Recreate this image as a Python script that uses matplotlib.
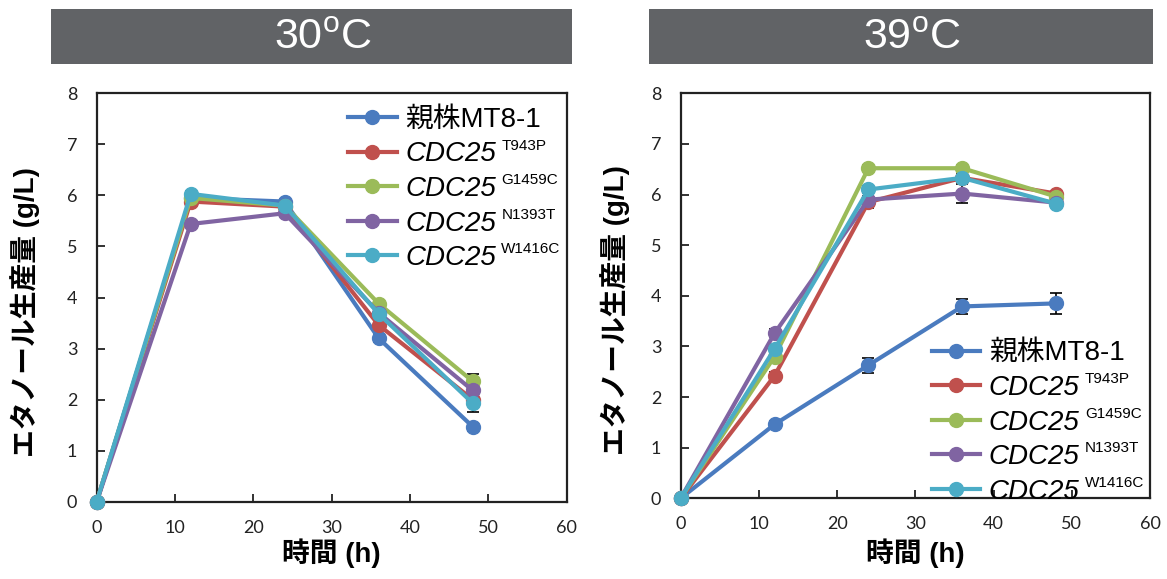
import matplotlib
matplotlib.use("Agg")
import matplotlib.pyplot as plt
from matplotlib.patches import Rectangle

plt.rcParams['font.family'] = ['Lato', 'Noto Sans CJK JP', 'DejaVu Sans']
plt.rcParams['mathtext.fontset'] = 'custom'
plt.rcParams['mathtext.rm'] = 'Liberation Sans'
plt.rcParams['mathtext.sf'] = 'Liberation Sans'

# 時間 (h)
hours = [0, 12, 24, 36, 48]

labels = ['親株MT8-1', 'CDC25', 'CDC25', 'CDC25', 'CDC25']
mutations = ['', 'T943P', 'G1459C', 'N1393T', 'W1416C']
colors = ['#4a7bbf', '#c0504d', '#9bbb59', '#8064a2', '#4bacc6']

# 30°C
t30_mt81 = [0, 5.95, 5.88, 3.20, 1.47]
t30_t943p = [0, 5.88, 5.78, 3.46, 2.00]
t30_g1459c = [0, 5.95, 5.80, 3.88, 2.36]
t30_n1393t = [0, 5.44, 5.65, 3.70, 2.18]
t30_w1416c = [0, 6.03, 5.80, 3.68, 1.93]
t30_err_mt81 = [0, 0.05, 0.05, 0.08, 0.08]
t30_err_t943p = [0, 0.05, 0.05, 0.08, 0.08]
t30_err_g1459c = [0, 0.05, 0.05, 0.08, 0.14]
t30_err_n1393t = [0, 0.05, 0.05, 0.08, 0.10]
t30_err_w1416c = [0, 0.05, 0.05, 0.08, 0.17]

# 39°C
t39_mt81 = [0, 1.46, 2.63, 3.79, 3.85]
t39_t943p = [0, 2.42, 5.85, 6.33, 6.02]
t39_g1459c = [0, 2.80, 6.52, 6.52, 5.96]
t39_n1393t = [0, 3.26, 5.90, 6.02, 5.84]
t39_w1416c = [0, 2.95, 6.10, 6.33, 5.82]
t39_err_mt81 = [0, 0.06, 0.15, 0.14, 0.20]
t39_err_t943p = [0, 0.08, 0.12, 0.08, 0.06]
t39_err_g1459c = [0, 0.08, 0.06, 0.06, 0.06]
t39_err_n1393t = [0, 0.08, 0.06, 0.18, 0.06]
t39_err_w1416c = [0, 0.08, 0.06, 0.08, 0.06]

panels = [
    ('30', [t30_mt81, t30_t943p, t30_g1459c, t30_n1393t, t30_w1416c],
     [t30_err_mt81, t30_err_t943p, t30_err_g1459c, t30_err_n1393t, t30_err_w1416c]),
    ('39', [t39_mt81, t39_t943p, t39_g1459c, t39_n1393t, t39_w1416c],
     [t39_err_mt81, t39_err_t943p, t39_err_g1459c, t39_err_n1393t, t39_err_w1416c]),
]

W, H = 1167, 579
fig = plt.figure(figsize=(W / 100, H / 100), dpi=100)

ax_boxes = [(96.7, 93.3, 566.7, 501.7), (680.7, 93.3, 1150, 498.3)]
banners = [(51, 9, 572, 64), (649, 9, 1153, 64)]
legend_pos = [(0.535, 0.967), (0.535, 0.39)]
ylab_x = [-0.12, -0.108]

for k, (temp, series, errs) in enumerate(panels):
    x0, y0, x1, y1 = ax_boxes[k]
    ax = fig.add_axes([x0 / W, 1 - y1 / H, (x1 - x0) / W, (y1 - y0) / H])

    for s, e, c, lab in zip(series, errs, colors, labels):
        ax.errorbar(hours, s, yerr=e, color=c, lw=3, marker='o', ms=10,
                    ecolor='black', elinewidth=1.2, capsize=4, capthick=1.2,
                    label=lab, clip_on=False, zorder=3)

    ax.set_xlim(0, 60)
    ax.set_ylim(0, 8)
    ax.set_xticks(range(0, 61, 10))
    ax.set_yticks(range(0, 9))
    ax.tick_params(direction='in', length=6, width=1.3, labelsize=13,
                   top=False, right=False, colors='#222222')
    ax.tick_params(axis='x', pad=13)
    ax.tick_params(axis='y', pad=14)
    for sp in ax.spines.values():
        sp.set_linewidth(1.6)
        sp.set_color('#222222')

    ax.set_xlabel('時間 (h)', fontsize=20, fontweight='bold',
                  family=['Liberation Sans', 'Noto Sans CJK JP'], va='top')
    ax.xaxis.set_label_coords(0.5, (y1 - 538) / (y1 - y0))
    ax.set_ylabel('エタノール生産量 (g/L)', fontsize=20, fontweight='bold',
                  family=['Liberation Sans', 'Noto Sans CJK JP'])
    ax.yaxis.set_label_coords(ylab_x[k], 0.465)

    # legend: line + marker only, no error bar
    handles, labs = ax.get_legend_handles_labels()
    handles = [h[0] for h in handles]
    leg = ax.legend(handles, labs, loc='upper left', bbox_to_anchor=legend_pos[k],
                    frameon=False, borderpad=0, borderaxespad=0, handlelength=1.75,
                    handletextpad=0.3, labelspacing=0.31,
                    prop={'family': ['Liberation Sans', 'Noto Sans CJK JP'], 'size': 20})
    for t, m in zip(leg.get_texts(), mutations):
        if m:
            t.set_fontstyle('italic')
            ax.annotate(m, xy=(1, 1), xycoords=t, xytext=(4, 2),
                        textcoords='offset points', ha='left', va='top',
                        fontsize=11, family='Liberation Sans', zorder=10)

    bx0, by0, bx1, by1 = banners[k]
    fig.patches.append(Rectangle((bx0 / W, 1 - by1 / H), (bx1 - bx0) / W, (by1 - by0) / H,
                                 transform=fig.transFigure, facecolor='#616366',
                                 edgecolor='none'))
    fig.text(((bx0 + bx1) / 2 + 11) / W, 1 - 38 / H, temp + r'$^{\mathsf{o}}$C',
             color='white', fontsize=31, ha='center', va='center',
             family='Liberation Sans')

fig.savefig('out.png', dpi=100)
